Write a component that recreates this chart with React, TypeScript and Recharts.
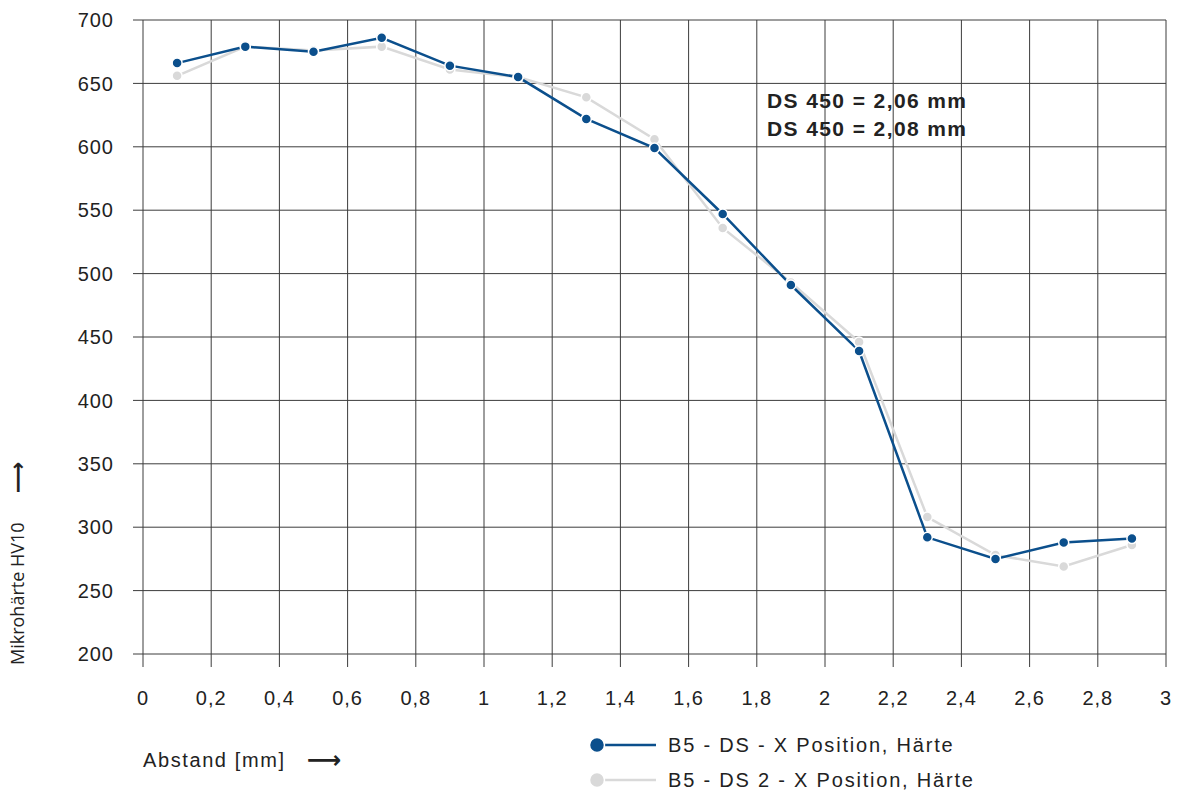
import React from "react";
import { LineChart, Line, XAxis, YAxis, CartesianGrid } from "recharts";

const positions = [0.1, 0.3, 0.5, 0.7, 0.9, 1.1, 1.3, 1.5, 1.7, 1.9, 2.1, 2.3, 2.5, 2.7, 2.9];
const hardnessDs = [666, 679, 675, 686, 664, 655, 622, 599, 547, 491, 439, 292, 275, 288, 291];
const hardnessDs2 = [656, 679, 676, 679, 661, 655, 639, 606, 536, 493, 446, 308, 278, 269, 286];

const xTicks = [0, 0.2, 0.4, 0.6, 0.8, 1, 1.2, 1.4, 1.6, 1.8, 2, 2.2, 2.4, 2.6, 2.8, 3];
const yTicks = [200, 250, 300, 350, 400, 450, 500, 550, 600, 650, 700];

const seriesNames = ["B5 - DS - X Position, Härte", "B5 - DS 2 - X Position, Härte"];
const notes = ["DS 450 = 2,06 mm", "DS 450 = 2,08 mm"];

const BLUE = "#0b4f8c";
const GREY = "#d9d9d9";
const GRID = "#3c3c3c";
const TEXT = "#222";
const FONT = "'Liberation Sans', Arial, sans-serif";

const data = positions.map((x, i) => ({ x, a: hardnessDs[i], b: hardnessDs2[i] }));

function LegendBox() {
  const items = [
    { name: seriesNames[0], color: BLUE },
    { name: seriesNames[1], color: GREY },
  ];
  return (
    <svg
      width={420}
      height={70}
      style={{ position: "absolute", left: 580, top: 728, overflow: "visible" }}
    >
      {items.map((it, i) => (
        <g key={it.name} transform={`translate(0, ${17 + i * 35})`}>
          <line x1={17} x2={76} y1={0} y2={0} stroke={it.color} strokeWidth={2.5} />
          <circle cx={17} cy={0} r={7.5} fill={it.color} stroke="#fff" strokeWidth={1.5} />
          <text
            x={88}
            y={7}
            fontSize={20}
            letterSpacing={1.8}
            fill={TEXT}
            fontFamily={FONT}
          >
            {it.name}
          </text>
        </g>
      ))}
    </svg>
  );
}

export default function App() {
  return (
    <div style={{ position: "absolute", left: 0, top: 0, width: 1189, height: 790, background: "#fff" }}>
      <LineChart
        width={1189}
        height={790}
        data={data}
        margin={{ top: 20, right: 23, bottom: 0, left: 0 }}
      >
        <CartesianGrid stroke={GRID} strokeWidth={1} />
        <XAxis
          dataKey="x"
          type="number"
          domain={[0, 3]}
          ticks={xTicks}
          interval={0}
          height={136}
          tickSize={13}
          tickMargin={24}
          axisLine={false}
          tickLine={{ stroke: GRID }}
          tick={{ fill: TEXT, fontSize: 20, fontFamily: FONT, letterSpacing: 1 }}
          tickFormatter={(v: number) => String(v).replace(".", ",")}
          label={{
            content: () => (
              <g>
                <text x={143} y={767} fontSize={20} letterSpacing={1.6} fill={TEXT} fontFamily={FONT}>
                  Abstand [mm]
                </text>
                <text
                  x={307}
                  y={768}
                  fontSize={24}
                  fontWeight="bold"
                  fill={TEXT}
                  fontFamily="'DejaVu Sans'"
                >
                  ⟶
                </text>
              </g>
            ),
          }}
        />
        <YAxis
          type="number"
          domain={[200, 700]}
          ticks={yTicks}
          interval={0}
          width={143}
          tickSize={10}
          tickMargin={19}
          axisLine={false}
          tickLine={{ stroke: GRID }}
          tick={{ fill: TEXT, fontSize: 20, fontFamily: FONT, letterSpacing: 1 }}
          label={{
            content: () => (
              <g>
                <text
                  transform="translate(24, 665) rotate(-90)"
                  fontSize={18}
                  fill={TEXT}
                  fontFamily="'Open Sans', sans-serif"
                >
                  Mikrohärte HV10
                </text>
                <text
                  transform="translate(25, 493) rotate(-90)"
                  fontSize={22}
                  fontWeight="bold"
                  fill={TEXT}
                  fontFamily="'DejaVu Sans'"
                >
                  ⟶
                </text>
              </g>
            ),
          }}
        />
        <Line
          type="linear"
          dataKey="b"
          name={seriesNames[1]}
          stroke={GREY}
          strokeWidth={2.5}
          dot={{ r: 5, fill: GREY, stroke: "#fff", strokeWidth: 1.5 }}
          isAnimationActive={false}
        />
        <Line
          type="linear"
          dataKey="a"
          name={seriesNames[0]}
          stroke={BLUE}
          strokeWidth={2.5}
          dot={{ r: 5, fill: BLUE, stroke: "#fff", strokeWidth: 1.5 }}
          isAnimationActive={false}
        />
      </LineChart>
      <LegendBox />
      <div
        style={{
          position: "absolute",
          left: 767,
          top: 87,
          fontFamily: FONT,
          fontWeight: "bold",
          fontSize: 21,
          letterSpacing: 1.4,
          lineHeight: "28px",
          color: TEXT,
          whiteSpace: "nowrap",
        }}
      >
        {notes.map((n) => (
          <div key={n}>{n}</div>
        ))}
      </div>
    </div>
  );
}
